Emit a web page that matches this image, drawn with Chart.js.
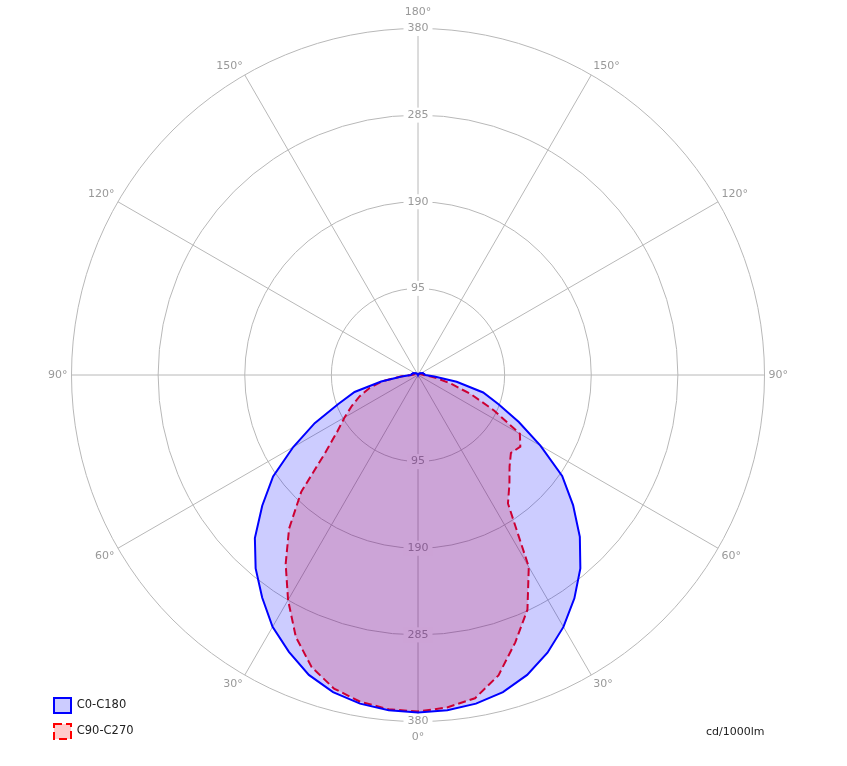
<!DOCTYPE html>
<html>
<head>
<meta charset="utf-8">
<script src="https://cdn.jsdelivr.net/npm/chart.js@4.4.1/dist/chart.umd.min.js"></script>
<style>
  body { margin: 0; background: #fff; }
</style>
</head>
<body>
<canvas id="polar" width="847" height="766"></canvas>
<script>
// gamma 0..180 in 5° steps
const gamma = [0,5,10,15,20,25,30,35,40,45,50,55,60,65,70,75,80,85,90,95,100,105,110,115,120,125,130,135,140,145,150,155,160,165,170,175,180];

// C0-C180 plane (right half C0, left half C180), cd/1000lm
const c0   = [370,369,366,360,350,336,319,299,277,251,222,193,155,122,94,74,43,18,8,7,7,6,6,5,4,3,3,2,2,1,1,1,1,0,0,0,0];
const c180 = [370,369,366,360,350,335,319,298,277,253,223,194,158,125,93,72,41,18,8,7,7,6,6,5,4,3,3,2,2,1,1,1,1,0,0,0,0];

// C90-C270 plane (right half C90, left half C270)
const c90  = [369,366,360,341,312,284,243,172,156,142,133,137,129,92,62,38,22,11,6,5,4,4,3,3,2,2,1,1,1,1,0,0,0,0,0,0,0];
const c270 = [369,368,364,356,341,317,285,253,220,181,133,108,93,80,68,55,40,19,7,5,5,4,4,3,3,2,2,1,1,1,1,0,0,0,0,0,0];

const rTicks = [95, 190, 285, 380];
const unitText = "cd/1000lm";

// radar index i sits 5*i degrees clockwise from the top (top = 180°)
const labels = [];
for (let i = 0; i < 72; i++) labels.push(i <= 36 ? 180 - 5 * i : 5 * i - 180);

function aroundPlane(right, left) {
  const out = [];
  for (let i = 0; i < 72; i++) out.push(i <= 36 ? right[36 - i] : left[i - 36]);
  return out;
}

Chart.defaults.font.family = "'DejaVu Sans', Verdana, sans-serif";

// tick labels on the lower half of the rings, under the fills
const lowerTicks = {
  id: "lowerTicks",
  beforeDatasetsDraw(chart) {
    const s = chart.scales.r;
    const ctx = chart.ctx;
    ctx.save();
    ctx.font = "11px 'DejaVu Sans'";
    ctx.textAlign = "center";
    ctx.textBaseline = "middle";
    rTicks.forEach((v) => {
      const y = s.yCenter + s.getDistanceFromCenterForValue(v);
      const w = ctx.measureText(String(v)).width;
      ctx.fillStyle = "#fff";
      ctx.fillRect(s.xCenter - w / 2 - 4, y - 7.5, w + 8, 15);
      ctx.fillStyle = "#999";
      ctx.fillText(String(v), s.xCenter, y);
    });
    ctx.restore();
  },
  afterDraw(chart) {
    const ctx = chart.ctx;
    ctx.save();
    ctx.font = "11px 'DejaVu Sans'";
    ctx.fillStyle = "#222";
    ctx.textBaseline = "middle";
    ctx.fillText(unitText, chart.width - 141, 732);
    ctx.restore();
  },
};

// legend lives inside the chart area, pushed to the bottom-left corner
const legendShift = {
  id: "legendShift",
  afterLayout(chart) {
    chart.legend.left = 43;
    chart.legend.bottom = chart.height - 16;
  },
};

const ctx = document.getElementById("polar").getContext("2d");
new Chart(ctx, {
  type: "radar",
  data: {
    labels: labels,
    datasets: [
      {
        label: "C0-C180",
        data: aroundPlane(c0, c180),
        borderColor: "#0000ff",
        backgroundColor: "rgba(0, 0, 255, 0.2)",
        borderWidth: 2,
        fill: true,
      },
      {
        label: "C90-C270",
        data: aroundPlane(c90, c270),
        borderColor: "#ff0000",
        backgroundColor: "rgba(255, 0, 0, 0.2)",
        borderWidth: 2,
        borderDash: [8, 4],
        fill: true,
      },
    ],
  },
  options: {
    responsive: false,
    animation: false,
    layout: { padding: { top: 7, bottom: 23, left: 0, right: 11 } },
    elements: {
      line: { tension: 0 },
      point: { radius: 0, hoverRadius: 0 },
    },
    scales: {
      r: {
        min: 0,
        max: 380,
        ticks: {
          stepSize: 95,
          color: "#999",
          font: { size: 11 },
          showLabelBackdrop: true,
          backdropColor: "#fff",
          backdropPadding: { top: 2, bottom: 2, left: 4, right: 4 },
        },
        grid: { circular: true, color: "#b8b8b8", lineWidth: 1 },
        angleLines: {
          color: "#b8b8b8",
          lineWidth: (c) => (c.index % 6 === 0 ? 1 : 0),
        },
        pointLabels: {
          color: "#999",
          font: { size: 11, lineHeight: 1 },
          padding: (c) => (c.index % 36 === 0 ? 3 : c.index % 6 === 0 ? -3.5 : 0),
          callback: (label) => (label % 30 === 0 ? label + "°" : ""),
        },
      },
    },
    plugins: {
      legend: {
        position: "chartArea",
        align: "end",
        labels: {
          boxWidth: 17,
          boxHeight: 15,
          padding: 11,
          color: "#222",
          font: { size: 11.5 },
        },
      },
      tooltip: { enabled: false },
    },
  },
  plugins: [lowerTicks, legendShift],
});
</script>
</body>
</html>
